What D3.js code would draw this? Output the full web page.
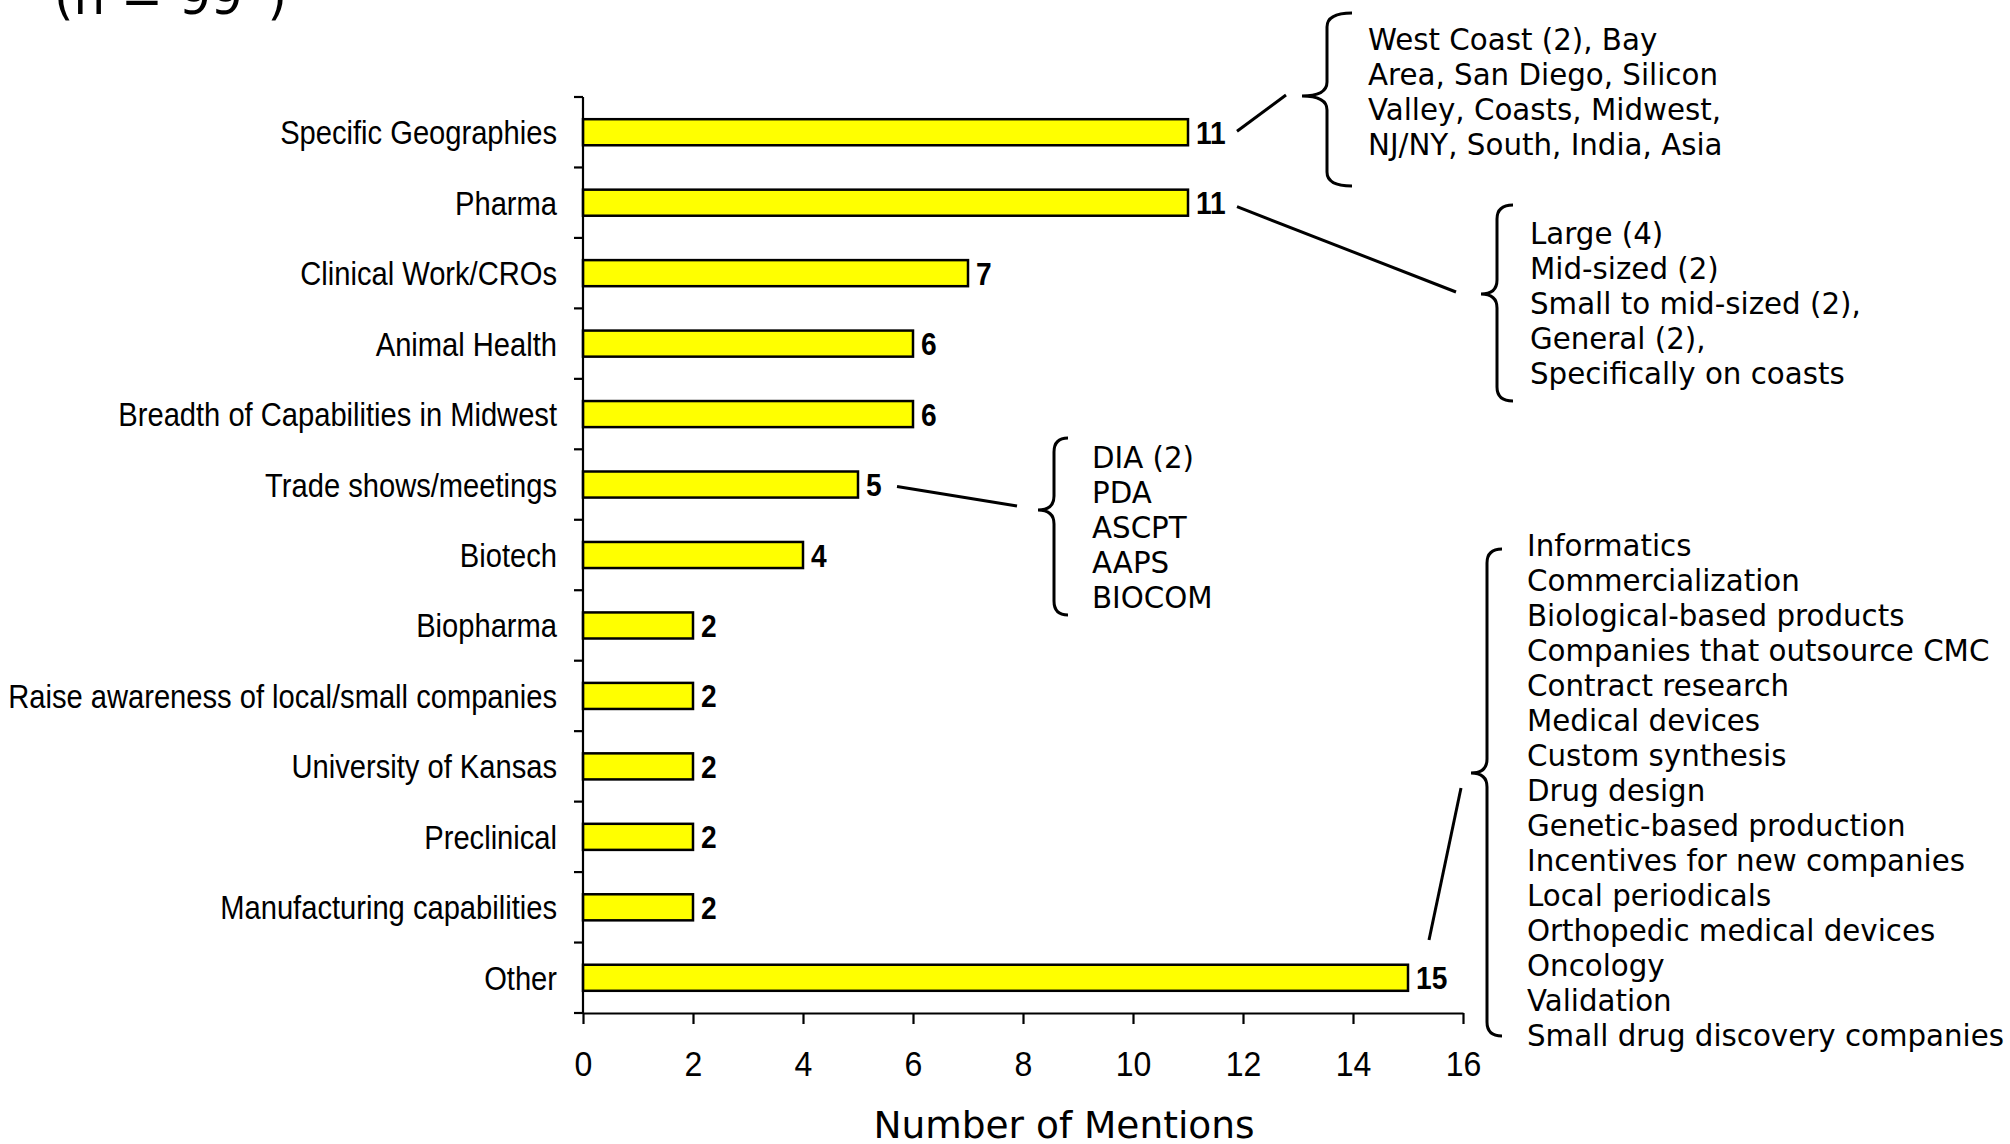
<!DOCTYPE html>
<html>
<head>
<meta charset="utf-8">
<script src="https://cdn.jsdelivr.net/npm/d3@7"></script>
<style>
  html, body { margin: 0; padding: 0; background: #fff; }
  svg { display: block; }
</style>
</head>
<body>
<svg id="chart" width="2010" height="1144"></svg>
<script>
// ---------------- DATA ----------------
const categories = [
  "Specific Geographies", "Pharma", "Clinical Work/CROs", "Animal Health",
  "Breadth of Capabilities in Midwest", "Trade shows/meetings", "Biotech",
  "Biopharma", "Raise awareness of local/small companies", "University of Kansas",
  "Preclinical", "Manufacturing capabilities", "Other"
];
const values = [11, 11, 7, 6, 6, 5, 4, 2, 2, 2, 2, 2, 15];
const xTicks = [0, 2, 4, 6, 8, 10, 12, 14, 16];
const xTitle = "Number of Mentions";
const topNote = "(n = 99*)";

const geoDetails = ["West Coast (2), Bay", "Area, San Diego, Silicon", "Valley, Coasts, Midwest,", "NJ/NY, South, India, Asia"];
const pharmaDetails = ["Large (4)", "Mid-sized (2)", "Small to mid-sized (2),", "General (2),", "Specifically on coasts"];
const tradeDetails = ["DIA (2)", "PDA", "ASCPT", "AAPS", "BIOCOM"];
const otherDetails = [
  "Informatics", "Commercialization", "Biological-based products",
  "Companies that outsource CMC", "Contract research", "Medical devices",
  "Custom synthesis", "Drug design", "Genetic-based production",
  "Incentives for new companies", "Local periodicals",
  "Orthopedic medical devices", "Oncology", "Validation",
  "Small drug discovery companies"
];

// ---------------- LAYOUT ----------------
const svg = d3.select("#chart");
const plotL = 583, plotR = 1463, plotT = 97, plotB = 1013;
const narrowFont = "'Liberation Sans', Arial, sans-serif";
const verdana = "'DejaVu Sans', Verdana, sans-serif";

const x = d3.scaleLinear().domain([0, 16]).range([plotL, plotR]);
const y = d3.scaleBand().domain(categories).range([plotT, plotB]).padding(0);
const barH = y.bandwidth() * 0.37;

// top note (cut off at top edge, as in the source)
svg.append("text").attr("x", 54).attr("y", 14)
  .attr("font-family", verdana).attr("font-size", 50).attr("fill", "#000")
  .text(topNote);

// bars
svg.append("g").selectAll("rect").data(categories).join("rect")
  .attr("x", x(0))
  .attr("y", d => y(d) + (y.bandwidth() - barH) / 2)
  .attr("width", (d, i) => x(values[i]) - x(0))
  .attr("height", barH)
  .attr("fill", "#FFFF00")
  .attr("stroke", "#000")
  .attr("stroke-width", 2.5);

// y axis line + boundary ticks
const yAxisG = svg.append("g").attr("stroke", "#000").attr("stroke-width", 2.2);
yAxisG.append("line").attr("x1", plotL).attr("x2", plotL).attr("y1", plotT).attr("y2", plotB);
const bounds = categories.map(c => y(c)).concat([plotB]);
yAxisG.selectAll("line.tk").data(bounds).join("line").attr("class", "tk")
  .attr("x1", plotL - 9).attr("x2", plotL).attr("y1", d => d).attr("y2", d => d);

// category labels
svg.append("g").selectAll("text").data(categories).join("text")
  .attr("transform", d => `translate(${plotL - 26},${y(d) + y.bandwidth() / 2 + 12}) scale(0.87,1)`)
  .attr("text-anchor", "end")
  .attr("font-family", narrowFont).attr("font-size", 33.5).attr("fill", "#000")
  .text(d => d);

// value labels
svg.append("g").selectAll("text").data(categories).join("text")
  .attr("transform", (d, i) => `translate(${x(values[i]) + 8},${y(d) + y.bandwidth() / 2 + 11.5}) scale(0.88,1)`)
  .attr("font-family", narrowFont).attr("font-weight", "bold").attr("font-size", 32).attr("fill", "#000")
  .text((d, i) => values[i]);

// x axis
const xAxis = d3.axisBottom(x).tickValues(xTicks).tickSize(11).tickSizeOuter(0).tickFormat(d3.format("d"));
const xg = svg.append("g").attr("transform", `translate(0,${plotB})`).call(xAxis);
xg.select(".domain").attr("stroke", "#000").attr("stroke-width", 2.2);
xg.selectAll(".tick line").attr("stroke", "#000").attr("stroke-width", 2.2);
xg.selectAll(".tick text").remove();
xg.selectAll(".tick").append("text")
  .attr("transform", "translate(0,63) scale(0.89,1)")
  .attr("text-anchor", "middle")
  .attr("font-family", narrowFont).attr("font-size", 36).attr("fill", "#000")
  .text(d => d);

// x title
svg.append("text").attr("x", (plotL + plotR) / 2 + 41).attr("y", 1138)
  .attr("text-anchor", "middle")
  .attr("font-family", verdana).attr("font-size", 37.5).attr("fill", "#000")
  .text(xTitle);

// ---------------- ANNOTATIONS ----------------
function brace(xEnd, xVert, xTip, yTop, yTip, yBot, r) {
  return `M${xEnd},${yTop} Q${xVert},${yTop} ${xVert},${yTop + r} L${xVert},${yTip - r} ` +
         `Q${xVert},${yTip} ${xTip},${yTip} Q${xVert},${yTip} ${xVert},${yTip + r} ` +
         `L${xVert},${yBot - r} Q${xVert},${yBot} ${xEnd},${yBot}`;
}
const ann = svg.append("g");
function group(lines, textX, firstBase, br, lead) {
  ann.append("path").attr("d", brace(...br)).attr("fill", "none")
    .attr("stroke", "#000").attr("stroke-width", 3);
  ann.append("line").attr("x1", lead[0]).attr("y1", lead[1]).attr("x2", lead[2]).attr("y2", lead[3])
    .attr("stroke", "#000").attr("stroke-width", 3);
  ann.append("g").selectAll("text").data(lines).join("text")
    .attr("x", textX).attr("y", (d, i) => firstBase + i * 35)
    .attr("font-family", verdana).attr("font-size", 29.3).attr("fill", "#000")
    .text(d => d);
}
const cy = c => y(c) + y.bandwidth() / 2;
group(geoDetails, 1368, 50, [1352, 1327, 1302, 13, 96, 186, 14],
      [x(values[0]) + 49, cy(categories[0]) - 1, 1286, 95]);
group(pharmaDetails, 1530, 244, [1513, 1497, 1481, 205, 294, 401, 14],
      [x(values[1]) + 49, cy(categories[1]) + 4, 1456, 292]);
group(tradeDetails, 1092, 468, [1068, 1054, 1038, 438, 510, 615, 14],
      [x(values[5]) + 39, cy(categories[5]) + 2, 1017, 506]);
group(otherDetails, 1527, 556, [1502, 1487, 1471, 549, 773, 1036, 14],
      [x(values[12]) + 21, 940, 1461, 788]);
</script>
</body>
</html>
